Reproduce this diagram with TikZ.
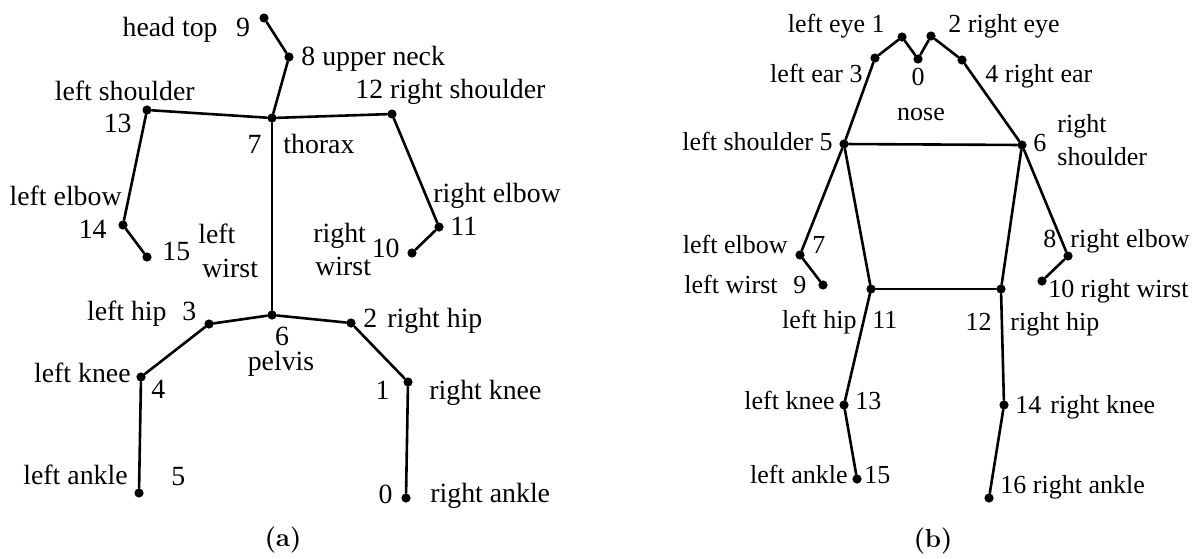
\documentclass[tikz,border=0pt]{standalone}
\usepackage{fontspec}
\newfontfamily\tms{Liberation Serif}
\begin{document}
\begin{tikzpicture}[x=0.5pt,y=-0.5pt,
  dot/.style={circle,fill=black,inner sep=0pt,minimum size=4.6pt},
  bone/.style={line width=1.3pt,line cap=round},
  la/.style={font=\fontsize{13.9}{16}\tms,inner sep=0pt},
  lb/.style={font=\fontsize{13}{15}\tms,inner sep=0pt},
  captext/.style={font=\fontsize{13}{15}\selectfont\bfseries,inner sep=0pt}]
\useasboundingbox (0,0) rectangle (1198,558);

% ---------- (a) ----------
\node[dot] (a9) at (264,18) {};
\node[dot] (a8) at (289,57) {};
\node[dot] (a7) at (272,118) {};
\node[dot] (a13) at (147,110) {};
\node[dot] (a12) at (392,114) {};
\node[dot] (a14) at (123,225) {};
\node[dot] (a15) at (147,257) {};
\node[dot] (a11) at (439,227) {};
\node[dot] (a10) at (412,253) {};
\node[dot] (a6) at (272,315) {};
\node[dot] (a3) at (209,324) {};
\node[dot] (a2) at (351,323) {};
\node[dot] (a4) at (141,377) {};
\node[dot] (a5) at (139,493) {};
\node[dot] (a1) at (408,382) {};
\node[dot] (a0) at (406,498) {};

\foreach \u/\v in {9/8,8/7,7/13,7/12,13/14,14/15,12/11,11/10,7/6,6/3,6/2,3/4,4/5,2/1,1/0}
  \draw[bone] (a\u) -- (a\v);

\node[la,anchor=base east] (ta9) at (218,36) {head top};
\node[la,anchor=base] (na9) at (243,36) {9};
\node[la,anchor=base west] (ta8) at (301,65) {8 upper neck};
\node[la,anchor=base east] (ta13) at (195,100) {left shoulder};
\node[la,anchor=base east] (na13) at (132,132) {13};
\node[la,anchor=base east] (na7) at (262,153) {7};
\node[la,anchor=base west] (ta7) at (283,153) {thorax};
\node[la,anchor=base west] (ta12) at (355,98) {12 right shoulder};
\node[la,anchor=base east] (ta14) at (122,205) {left elbow};
\node[la,anchor=base east] (na14) at (107,238) {14};
\node[la,anchor=base west] (na15) at (162,260) {15};
\node[la,anchor=base west] (ta15a) at (198,243) {left};
\node[la,anchor=base west] (ta15b) at (202,277) {wirst};
\node[la,anchor=base west] (ta11) at (433,202) {right elbow};
\node[la,anchor=base west] (na11) at (450,235) {11};
\node[la,anchor=base east] (na10) at (400,257) {10};
\node[la,anchor=base west] (ta10a) at (313,242) {right};
\node[la,anchor=base west] (ta10b) at (315,275) {wirst};
\node[la,anchor=base east] (ta3) at (167,320) {left hip};
\node[la,anchor=base west] (na3) at (182,320) {3};
\node[la,anchor=base west] (na2) at (363,327) {2};
\node[la,anchor=base west] (ta2) at (387,327) {right hip};
\node[la,anchor=base] (na6) at (282,345) {6};
\node[la,anchor=base] (ta6) at (281,370) {pelvis};
\node[la,anchor=base east] (ta4) at (131,382) {left knee};
\node[la,anchor=base west] (na4) at (151,398) {4};
\node[la,anchor=base east] (na1) at (390,399) {1};
\node[la,anchor=base west] (ta1) at (429,399) {right knee};
\node[la,anchor=base east] (ta5) at (128,484) {left ankle};
\node[la,anchor=base west] (na5) at (171,485) {5};
\node[la,anchor=base east] (na0) at (393,503) {0};
\node[la,anchor=base west] (ta0) at (430,502) {right ankle};
\node[captext] (capa) at (283,540) {(a)};

% ---------- (b) ----------
\node[dot] (b1) at (902,37) {};
\node[dot] (b0) at (918,59) {};
\node[dot] (b2) at (931,36) {};
\node[dot] (b3) at (875,58) {};
\node[dot] (b4) at (962,60) {};
\node[dot] (b5) at (844,144) {};
\node[dot] (b6) at (1022,145) {};
\node[dot] (b7) at (800,255) {};
\node[dot] (b9) at (823,285) {};
\node[dot] (b11) at (871,289) {};
\node[dot] (b8) at (1068,256) {};
\node[dot] (b10) at (1042,281) {};
\node[dot] (b12) at (1001,289) {};
\node[dot] (b13) at (844,405) {};
\node[dot] (b15) at (857,479) {};
\node[dot] (b14) at (1004,405) {};
\node[dot] (b16) at (989,498) {};

\foreach \u/\v in {3/1,1/0,0/2,2/4,3/5,4/6,5/6,5/7,7/9,6/8,8/10,5/11,6/12,11/12,11/13,13/15,12/14,14/16}
  \draw[bone] (b\u) -- (b\v);

\node[lb,anchor=base east] (tb1) at (885,32) {left eye 1};
\node[lb,anchor=base west] (tb2) at (948,32) {2 right eye};
\node[lb,anchor=base east] (tb3) at (863,82) {left ear 3};
\node[lb,anchor=base] (nb0) at (918,85) {0};
\node[lb,anchor=base] (tb0) at (921,120) {nose};
\node[lb,anchor=base west] (tb4) at (985,82) {4 right ear};
\node[lb,anchor=base east] (tb5) at (833,150) {left shoulder 5};
\node[lb,anchor=base west] (nb6) at (1033,151) {6};
\node[lb,anchor=base west] (tb6a) at (1057,132) {right};
\node[lb,anchor=base west] (tb6b) at (1057,165) {shoulder};
\node[lb,anchor=base east] (tb7) at (788,253) {left elbow};
\node[lb,anchor=base west] (nb7) at (812,253) {7};
\node[lb,anchor=base east] (tb9) at (778,293) {left wirst};
\node[lb,anchor=base west] (nb9) at (793,293) {9};
\node[lb,anchor=base east] (tb11) at (857,328) {left hip};
\node[lb,anchor=base west] (nb11) at (872,328) {11};
\node[lb,anchor=base west] (nb8) at (1043,247) {8};
\node[lb,anchor=base west] (tb8) at (1070,247) {right elbow};
\node[lb,anchor=base west] (tb10) at (1048,297) {10 right wirst};
\node[lb,anchor=base east] (nb12) at (992,330) {12};
\node[lb,anchor=base west] (tb12) at (1010,330) {right hip};
\node[lb,anchor=base east] (tb13) at (835,409) {left knee};
\node[lb,anchor=base west] (nb13) at (855,409) {13};
\node[lb,anchor=base west] (nb14) at (1015,413) {14};
\node[lb,anchor=base west] (tb14) at (1050,413) {right knee};
\node[lb,anchor=base east] (tb15) at (848,483) {left ankle};
\node[lb,anchor=base west] (nb15) at (864,483) {15};
\node[lb,anchor=base west] (tb16) at (1000,493) {16 right ankle};
\node[captext] (capb) at (933,541) {(b)};
\end{tikzpicture}
\end{document}
